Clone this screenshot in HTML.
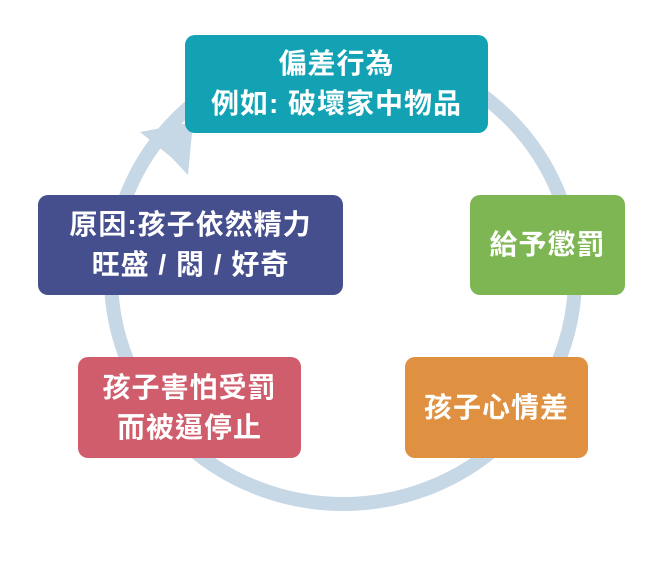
<!DOCTYPE html>
<html><head><meta charset="utf-8"><style>
body{margin:0;width:666px;height:584px;background:#fff;position:relative;overflow:hidden;font-family:"Liberation Sans","Noto Sans CJK TC",sans-serif}
.b{position:absolute;border-radius:10px;color:#fff;font-weight:bold;font-size:28px;line-height:40px;display:flex;align-items:center;justify-content:center;text-align:center;letter-spacing:1px}
</style></head><body>
<svg width="666" height="584" style="position:absolute;left:0;top:0">
<ellipse cx="343" cy="277" rx="232" ry="227" fill="none" stroke="#C6D7E6" stroke-width="14"/>
<polygon points="193,122 188,175 171,157 140,132" fill="#C6D7E6"/>
</svg>
<div class="b" style="left:185px;top:35px;width:303px;height:98px;background:#12A2B3">偏差行為<br>例如: 破壞家中物品</div>
<div class="b" style="left:470px;top:195px;width:155px;height:100px;background:#7DB653">給予懲罰</div>
<div class="b" style="left:405px;top:357px;width:183px;height:101px;background:#DF9040">孩子心情差</div>
<div class="b" style="left:78px;top:357px;width:223px;height:101px;background:#D05D6C">孩子害怕受罰<br>而被逼停止</div>
<div class="b" style="left:38px;top:195px;width:305px;height:100px;background:#454F8E">原因:孩子依然精力<br>旺盛 / 悶 / 好奇</div>
</body></html>
